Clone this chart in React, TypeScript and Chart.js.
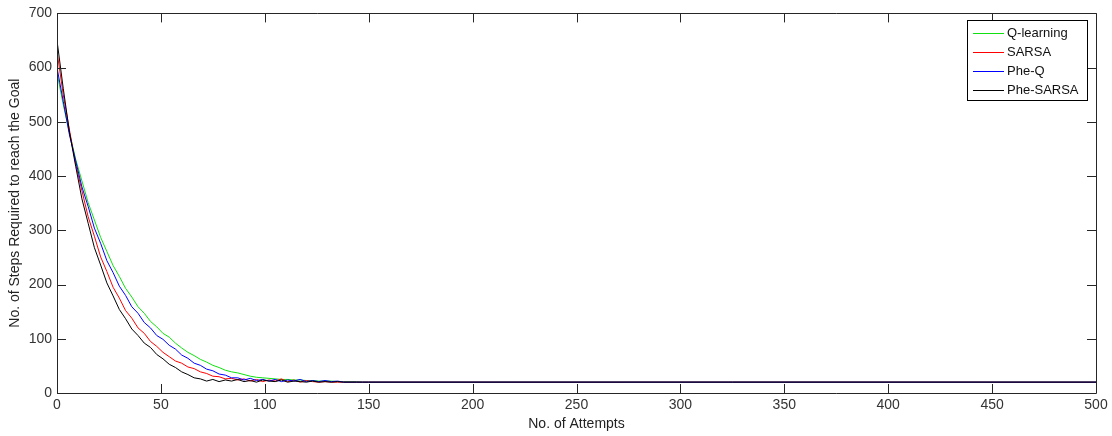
import React, { useEffect, useRef } from "react";
import { Chart, registerables } from "chart.js";

Chart.register(...registerables);

const attempts = [
  0, 3, 6, 9, 12, 15, 18, 21, 24, 27, 30, 33, 36, 39, 42, 45, 48, 51, 54, 57,
  60, 63, 66, 69, 72, 75, 78, 81, 84, 87, 90, 93, 96, 99, 102, 105, 108, 111,
  114, 117, 120, 123, 126, 129, 132, 135, 138, 141, 144, 147, 150, 500,
];

const qLearning = [
  590, 532, 480, 431, 391, 351, 319, 287, 261, 235, 215, 193, 177, 159, 147, 132,
  122, 110, 103, 92, 83, 75, 69, 62, 57, 51, 47, 42, 39, 37, 34, 31, 29, 28,
  27, 26, 25, 25, 24, 24, 23, 23, 22, 22, 22, 21, 21, 21, 21, 20, 20, 20,
];

const sarsa = [
  630, 550, 485, 422, 373, 325, 289, 251, 224, 195, 175, 152, 138, 120, 110, 95,
  86, 75, 67, 59, 55, 48, 45, 39, 36, 31, 30, 26, 27, 24, 26, 22, 25, 21, 24,
  22, 26, 21, 24, 20, 23, 21, 20, 21, 20, 20, 20, 20, 20, 20, 20, 20,
];

const pheQ = [
  600, 538, 476, 428, 380, 344, 304, 276, 244, 222, 197, 180, 159, 147, 130, 120,
  106, 99, 88, 81, 70, 64, 55, 51, 44, 41, 35, 33, 28, 28, 24, 27, 23, 25, 22,
  25, 21, 24, 22, 25, 21, 23, 21, 23, 21, 22, 20, 20, 20, 20, 20, 20,
];

const pheSarsa = [
  650, 562, 481, 418, 358, 313, 268, 236, 203, 179, 154, 137, 118, 106, 92, 84,
  71, 63, 53, 47, 39, 34, 28, 26, 22, 25, 21, 24, 22, 25, 21, 23, 20, 24, 22,
  21, 24, 20, 22, 21, 20, 22, 20, 21, 20, 21, 20, 20, 20, 20, 20, 20,
];

const seriesNames = ["Q-learning", "SARSA", "Phe-Q", "Phe-SARSA"];
const seriesColors = ["#10e010", "#ff0000", "#0000ff", "#000000"];
const xTicks = [0, 50, 100, 150, 200, 250, 300, 350, 400, 450, 500];
const yTicks = [0, 100, 200, 300, 400, 500, 600, 700];

const FONT = "'Liberation Sans', Arial, sans-serif";

const framePlugin = {
  id: "matlabFrame",
  afterDatasetsDraw(chart: any) {
    const ctx = chart.ctx;
    const { left, right, top, bottom } = chart.chartArea;
    const xs = chart.scales.x;
    const ys = chart.scales.y;
    ctx.save();
    ctx.strokeStyle = "#262626";
    ctx.lineWidth = 1;
    ctx.beginPath();
    ctx.rect(Math.round(left) + 0.5, Math.round(top) + 0.5, Math.round(right - left), Math.round(bottom - top));
    ctx.stroke();
    const tl = 9;
    ctx.beginPath();
    xTicks.forEach((v) => {
      const px = Math.round(xs.getPixelForValue(v)) + 0.5;
      ctx.moveTo(px, bottom);
      ctx.lineTo(px, bottom - tl);
      ctx.moveTo(px, top);
      ctx.lineTo(px, top + tl);
    });
    yTicks.forEach((v) => {
      const py = Math.round(ys.getPixelForValue(v)) + 0.5;
      ctx.moveTo(left, py);
      ctx.lineTo(left + tl, py);
      ctx.moveTo(right, py);
      ctx.lineTo(right - tl, py);
    });
    ctx.stroke();

    // legend
    const lx = 967, ly = 20, lw = 120, lh = 80;
    ctx.fillStyle = "#ffffff";
    ctx.fillRect(lx, ly, lw, lh);
    ctx.strokeStyle = "#000000";
    ctx.strokeRect(lx + 0.5, ly + 0.5, lw, lh);
    ctx.font = `13px ${FONT}`;
    ctx.textBaseline = "middle";
    ctx.textAlign = "left";
    seriesNames.forEach((name, i) => {
      const ry = Math.round(ly + 13 + i * 19) + 0.5;
      ctx.strokeStyle = seriesColors[i];
      ctx.lineWidth = 1;
      ctx.beginPath();
      ctx.moveTo(lx + 6, ry);
      ctx.lineTo(lx + 37, ry);
      ctx.stroke();
      ctx.fillStyle = "#111111";
      ctx.fillText(name, lx + 40, ry);
    });

    // axis titles
    ctx.fillStyle = "#222222";
    ctx.font = `14px ${FONT}`;
    ctx.textAlign = "center";
    ctx.textBaseline = "middle";
    ctx.fillText("No. of Attempts", (left + right) / 2, 424);
    ctx.translate(15, (top + bottom) / 2);
    ctx.rotate(-Math.PI / 2);
    ctx.fillText("No. of Steps Required to reach the Goal", 0, 0);
    ctx.restore();
  },
};

export default function App() {
  const ref = useRef<HTMLCanvasElement>(null);
  useEffect(() => {
    if (!ref.current) return;
    const all = [qLearning, sarsa, pheQ, pheSarsa];
    const chart = new Chart(ref.current, {
      type: "line",
      data: {
        datasets: all.map((vals, i) => ({
          label: seriesNames[i],
          data: attempts.map((x, j) => ({ x, y: vals[j] })),
          borderColor: seriesColors[i],
          backgroundColor: seriesColors[i],
          borderWidth: 1,
          pointRadius: 0,
          tension: 0,
          fill: false,
          order: 4 - i,
        })),
      },
      options: {
        animation: false,
        responsive: false,
        devicePixelRatio: 1,
        layout: { padding: { top: 13, right: 16, left: 0, bottom: 0 } },
        plugins: { legend: { display: false }, tooltip: { enabled: false } },
        scales: {
          x: {
            type: "linear",
            min: 0,
            max: 500,
            afterFit: (s: any) => {
              s.height = 43;
            },
            afterBuildTicks: (s: any) => {
              s.ticks = xTicks.map((v) => ({ value: v }));
            },
            grid: { display: false, drawTicks: false },
            border: { display: false },
            ticks: {
              padding: 4,
              color: "#333333",
              font: { family: FONT, size: 14 },
              maxRotation: 0,
              autoSkip: false,
            },
          },
          y: {
            type: "linear",
            min: 0,
            max: 700,
            afterFit: (s: any) => {
              s.width = 57;
            },
            afterBuildTicks: (s: any) => {
              s.ticks = yTicks.map((v) => ({ value: v }));
            },
            grid: { display: false, drawTicks: false },
            border: { display: false },
            ticks: {
              padding: 5,
              color: "#333333",
              font: { family: FONT, size: 14 },
              autoSkip: false,
            },
          },
        },
      },
      plugins: [framePlugin],
    });
    return () => chart.destroy();
  }, []);
  return (
    <div style={{ position: "fixed", left: 0, top: 0, width: 1112, height: 436, background: "#fff" }}>
      <canvas ref={ref} width={1112} height={436} style={{ width: 1112, height: 436 }} />
    </div>
  );
}
